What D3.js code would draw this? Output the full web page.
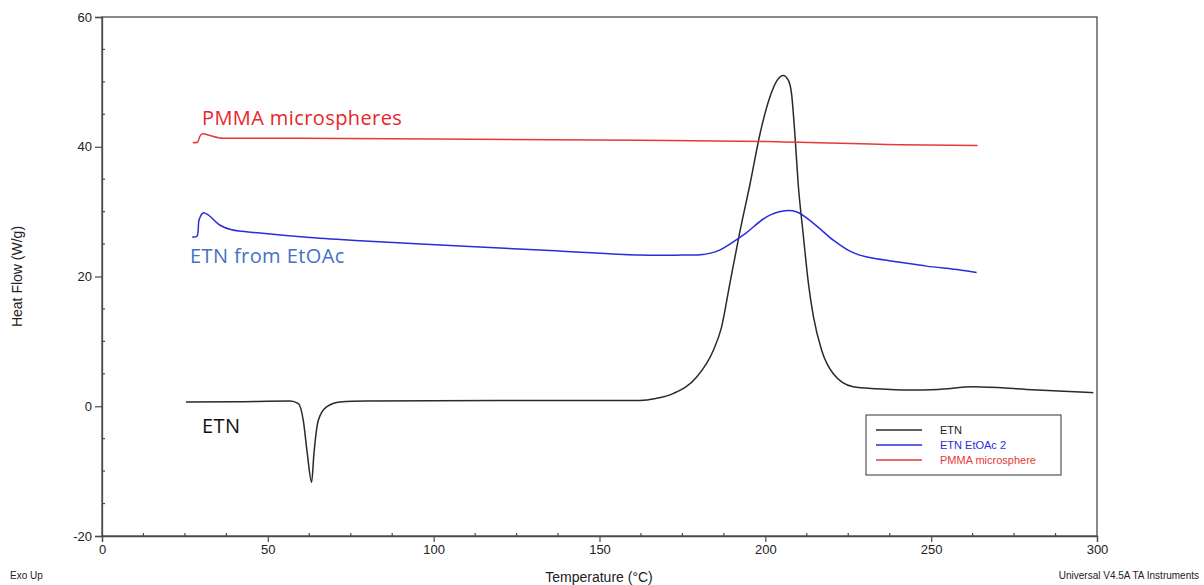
<!DOCTYPE html>
<html>
<head>
<meta charset="utf-8">
<script src="https://cdn.jsdelivr.net/npm/d3@7"></script>
<style>
  body { margin: 0; background: #fff; }
  svg { display: block; }
  .tick text { font-family: "Liberation Sans", Arial, sans-serif; font-size: 13px; fill: #222; }
</style>
</head>
<body>
<svg id="chart" width="1204" height="585"></svg>
<script>
// DSC thermograms: temperature (°C) vs heat flow (W/g)
const etnTemp = [25.3, 40, 56.7, 59.2, 60.7, 61.9, 63.2, 63.9, 65.2, 67.7, 71.8, 79.8, 120, 162.2, 167, 172.2, 179.3, 184.3, 186.8, 189.3, 192.4, 195.4, 198.4, 201.4, 203.5, 205.4, 207.0, 207.9, 208.9, 209.9, 211.4, 213.0, 214.5, 217.0, 220.5, 226.5, 233.6, 243.6, 252, 262.7, 278.8, 298.9];
const etnFlow = [0.66, 0.7, 0.8, 0.4, -2.2, -7.3, -11.7, -7.3, -2.2, -0.1, 0.66, 0.8, 0.9, 0.9, 1.2, 1.95, 4.5, 8.6, 12.2, 18.9, 27.1, 34.3, 42.0, 47.7, 50.2, 51.0, 50.2, 48.2, 42.0, 34.3, 26.6, 18.9, 13.8, 8.6, 5.0, 3.0, 2.7, 2.5, 2.6, 3.0, 2.6, 2.1];

const etoacTemp = [27.2, 28.6, 29.3, 30.5, 32.0, 35.6, 39.1, 47.6, 62.7, 77.8, 107.9, 135, 162.2, 175, 180.3, 183.5, 186.4, 193.4, 200.4, 205.4, 209.5, 214.5, 220.5, 225.5, 228.5, 232.6, 240.6, 248.6, 258.7, 263.7];
const etoacFlow = [26.1, 26.2, 28.8, 29.8, 29.5, 27.9, 27.2, 26.7, 26.0, 25.5, 24.7, 24.0, 23.3, 23.3, 23.35, 23.6, 24.1, 26.4, 29.2, 30.1, 29.95, 28.2, 25.6, 23.9, 23.3, 22.8, 22.2, 21.6, 21.0, 20.6];

const pmmaTemp = [27.4, 28.8, 29.5, 30.4, 32.0, 36.5, 60, 100, 162.2, 200, 240.6, 264.0];
const pmmaFlow = [40.6, 40.7, 41.6, 42.0, 41.8, 41.3, 41.3, 41.2, 41.0, 40.8, 40.3, 40.2];

const xTicks = [0, 50, 100, 150, 200, 250, 300];
const yTicks = [-20, 0, 20, 40, 60];

const seriesNames = ["ETN", "ETN EtOAc 2", "PMMA microsphere"];
const seriesColors = ["#2a2a2a", "#2b2bdc", "#e63a3a"];

const svg = d3.select("#chart");
const plotL = 102, plotR = 1097, plotT = 17, plotB = 536;

const x = d3.scaleLinear().domain([0, 300]).range([plotL, plotR]);
const y = d3.scaleLinear().domain([-20, 60]).range([plotB, plotT]);

const axisColor = "#4a4a4a";
const plainNum = d => String(d);

// plot frame
svg.append("rect")
  .attr("x", plotL).attr("y", plotT)
  .attr("width", plotR - plotL).attr("height", plotB - plotT)
  .attr("fill", "none").attr("stroke", axisColor).attr("stroke-width", 1.3);

// minor ticks (inside)
const xMinor = d3.range(0, 300.01, 12.5).filter(v => v % 50 !== 0);
const yMinor = d3.range(-20, 60.01, 5).filter(v => v % 20 !== 0);
svg.append("g").selectAll("line").data(xMinor).join("line")
  .attr("x1", d => x(d)).attr("x2", d => x(d))
  .attr("y1", plotB).attr("y2", plotB - 3)
  .attr("stroke", axisColor).attr("stroke-width", 1.2);
svg.append("g").selectAll("line").data(yMinor).join("line")
  .attr("x1", plotL).attr("x2", plotL + 3)
  .attr("y1", d => y(d)).attr("y2", d => y(d))
  .attr("stroke", axisColor).attr("stroke-width", 1.2);

// major axes
const xAxis = svg.append("g")
  .attr("transform", `translate(0,${plotB})`)
  .call(d3.axisBottom(x).tickValues(xTicks).tickSize(6).tickPadding(3).tickFormat(plainNum));
const yAxis = svg.append("g")
  .attr("transform", `translate(${plotL},0)`)
  .call(d3.axisLeft(y).tickValues(yTicks).tickSize(7).tickPadding(3).tickFormat(plainNum));
[xAxis, yAxis].forEach(g => {
  g.select(".domain").attr("stroke", axisColor).attr("stroke-width", 1.3);
  g.selectAll(".tick line").attr("stroke", axisColor).attr("stroke-width", 1.2);
});

// axis titles
svg.append("text")
  .attr("x", 599).attr("y", 582)
  .attr("text-anchor", "middle")
  .attr("font-family", "Liberation Sans, Arial, sans-serif")
  .attr("font-size", 14).attr("fill", "#222")
  .text("Temperature (°C)");
svg.append("text")
  .attr("transform", `translate(22,${(plotT + plotB) / 2}) rotate(-90)`)
  .attr("text-anchor", "middle")
  .attr("font-family", "Liberation Sans, Arial, sans-serif")
  .attr("font-size", 14).attr("fill", "#222")
  .text("Heat Flow (W/g)");
svg.append("text")
  .attr("x", 10).attr("y", 579)
  .attr("font-family", "Liberation Sans, Arial, sans-serif")
  .attr("font-size", 10).attr("fill", "#222")
  .text("Exo Up");
svg.append("text")
  .attr("x", 1199).attr("y", 579)
  .attr("text-anchor", "end")
  .attr("font-family", "Liberation Sans, Arial, sans-serif")
  .attr("font-size", 10).attr("fill", "#222")
  .text("Universal V4.5A TA Instruments");

// curves: sharp-featured traces use monotone interpolation, the broad one a centripetal spline
const monoLine = d3.line().x(d => x(d[0])).y(d => y(d[1])).curve(d3.curveMonotoneX);
const smoothLine = d3.line().x(d => x(d[0])).y(d => y(d[1])).curve(d3.curveCatmullRom.alpha(0.5));
const series = [
  { pts: d3.zip(etnTemp, etnFlow), gen: monoLine },
  { pts: d3.zip(etoacTemp, etoacFlow), gen: smoothLine },
  { pts: d3.zip(pmmaTemp, pmmaFlow), gen: monoLine }
];
series.forEach((s, i) => {
  svg.append("path")
    .datum(s.pts)
    .attr("d", s.gen)
    .attr("fill", "none")
    .attr("stroke", seriesColors[i])
    .attr("stroke-width", 1.5)
    .attr("stroke-linejoin", "round");
});

// in-plot annotations
const notes = [
  { text: "PMMA microspheres", x: 202, y: 125, color: "#e8262a" },
  { text: "ETN from EtOAc", x: 190, y: 263, color: "#4472c4" },
  { text: "ETN", x: 202, y: 433, color: "#111" }
];
svg.append("g").selectAll("text").data(notes).join("text")
  .attr("x", d => d.x).attr("y", d => d.y)
  .attr("font-family", "'Open Sans', Lato, sans-serif")
  .attr("font-size", 20)
  .attr("letter-spacing", 0.4)
  .attr("fill", d => d.color)
  .text(d => d.text);

// legend
const lg = svg.append("g").attr("transform", "translate(866,415)");
lg.append("rect")
  .attr("width", 195).attr("height", 60)
  .attr("fill", "#fff").attr("stroke", "#555").attr("stroke-width", 1.2);
seriesNames.forEach((name, i) => {
  const yy = 15 + i * 15;
  lg.append("line")
    .attr("x1", 10).attr("x2", 56).attr("y1", yy).attr("y2", yy)
    .attr("stroke", seriesColors[i]).attr("stroke-width", 1.3);
  lg.append("text")
    .attr("x", 74).attr("y", yy + 4)
    .attr("font-family", "Liberation Sans, Arial, sans-serif")
    .attr("font-size", 11)
    .attr("fill", i === 0 ? "#222" : seriesColors[i])
    .text(name);
});
</script>
</body>
</html>
